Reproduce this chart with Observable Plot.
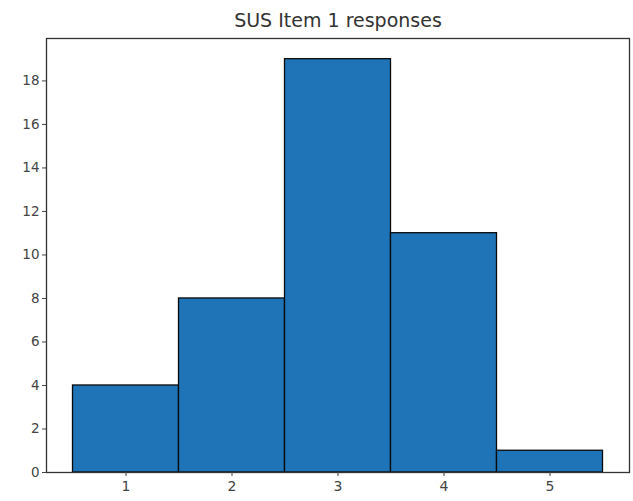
<!DOCTYPE html>
<html>
<head>
<meta charset="utf-8">
<script src="https://cdn.jsdelivr.net/npm/d3@7"></script>
<script src="https://cdn.jsdelivr.net/npm/@observablehq/plot@0.6"></script>
<style>
  html, body { margin: 0; padding: 0; background: #fff; }
  svg { display: block; }
</style>
</head>
<body>
<div id="chart"></div>
<script>
const responses = [1, 2, 3, 4, 5];
const counts = [4, 8, 19, 11, 1];
const yTicks = [0, 2, 4, 6, 8, 10, 12, 14, 16, 18];
const chartTitle = "SUS Item 1 responses";

const table = responses.map((r, i) => ({ x1: r - 0.5, x2: r + 0.5, count: counts[i] }));

const chart = Plot.plot({
  width: 633,
  height: 501,
  marginLeft: 46,
  marginRight: 4,
  marginTop: 38,
  marginBottom: 29,
  style: { fontFamily: "DejaVu Sans", fontSize: "13px", color: "#333", background: "#fff" },
  x: { domain: [0.25, 5.75], ticks: responses, tickFormat: d3.format("d") },
  y: { domain: [0, 19.95] },
  marks: [
    Plot.rectY(table, { x1: "x1", x2: "x2", y: "count", fill: "#1f74b8", stroke: "#0a0a0a", strokeWidth: 1.3 }),
    Plot.frame({ stroke: "#333", strokeWidth: 1.3 }),
    Plot.axisX({ ticks: responses, tickSize: 4, tickPadding: 5, fontSize: 14, label: null, tickFormat: d3.format("d"), color: "#444" }),
    Plot.axisY({ ticks: yTicks, tickSize: 4, tickPadding: 3, fontSize: 13.5, label: null, color: "#444" }),
    Plot.text([chartTitle], { frameAnchor: "top", dy: -18, fontSize: 19, fill: "#333", text: d => d, lineAnchor: "middle" })
  ]
});
document.getElementById("chart").append(chart);
</script>
</body>
</html>
